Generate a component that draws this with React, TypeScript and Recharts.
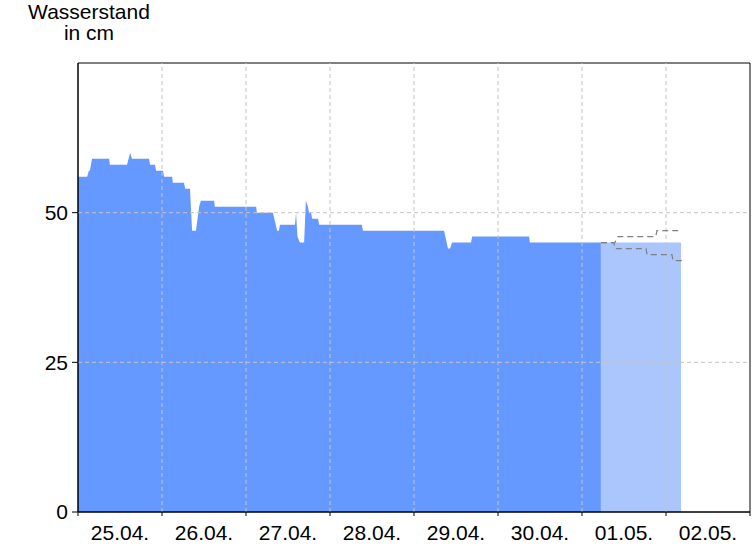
import React from "react";
import {
  ComposedChart,
  Area,
  Line,
  XAxis,
  YAxis,
  ReferenceArea,
  ReferenceLine,
} from "recharts";

// hours since 25.04. 00:00
const measuredHours = [
  0, 2.6, 3.1, 3.4, 4.0, 8.9, 9.1, 14.0, 14.9, 15.4, 20.3, 20.6, 22.0, 22.3, 24.3,
  24.6, 26.9, 27.1, 30.3, 30.6, 32.0, 32.6, 33.7, 34.6, 35.1, 38.9, 39.1, 50.9,
  51.1, 55.7, 56.9, 57.4, 57.7, 62.0, 62.3, 62.7, 63.4, 64.6, 65.1, 65.7, 66.0,
  66.6, 66.9, 68.6, 68.9, 81.1, 81.4, 104.6, 105.7, 106.3, 106.9, 112.3, 112.6,
  128.9, 129.1, 149.4,
];
const measuredLevels = [
  56, 56, 57, 57, 59, 59, 58, 58, 60, 59, 59, 58, 58, 57, 57,
  56, 56, 55, 55, 54, 54, 47, 47, 51, 52, 52, 51, 51,
  50, 50, 47, 47, 48, 48, 50, 46, 45, 45, 52, 51, 50,
  50, 49, 49, 48, 48, 47, 47, 44, 44, 45, 45, 46,
  46, 45, 45,
];

const forecastHours = [149.4, 172.3];
const forecastLevels = [45, 45];

const upperHours = [149.4, 153.4, 154.3, 165.1, 165.4, 172.6];
const upperLevels = [45, 45, 46, 46, 47, 47];

const lowerHours = [149.4, 153.1, 153.4, 162.3, 162.6, 169.7, 170.0, 172.6];
const lowerLevels = [45, 45, 44, 44, 43, 43, 42, 42];

const dayTicks = [0, 24, 48, 72, 96, 120, 144, 168, 192];
const dayLabels = ["25.04.", "26.04.", "27.04.", "28.04.", "29.04.", "30.04.", "01.05.", "02.05."];
const levelTicks = [0, 25, 50];

const toRows = (hours: number[], levels: number[]) =>
  hours.map((h, i) => ({ h, v: levels[i] }));

const measured = toRows(measuredHours, measuredLevels);
const forecast = toRows(forecastHours, forecastLevels);
const upper = toRows(upperHours, upperLevels);
const lower = toRows(lowerHours, lowerLevels);

const FONT = '"Liberation Sans", Arial, sans-serif';
const FONT_SIZE = 21;
const HALF_DAY_PX = 42;
const GRID = "#c4c4c4";

const DayTick = (props: any) => {
  const { x, y, payload } = props;
  const idx = dayTicks.indexOf(payload.value);
  if (idx < 0 || idx >= dayLabels.length) return null;
  return (
    <text x={x + HALF_DAY_PX} y={y} dy={22} textAnchor="middle" fill="#000" fontSize={FONT_SIZE} fontFamily={FONT}>
      {dayLabels[idx]}
    </text>
  );
};

const App: React.FC = () => {
  return (
    <div style={{ position: "absolute", left: 0, top: 0, width: 756, height: 546, background: "#fff" }}>
      <div
        style={{
          position: "absolute",
          left: 0,
          top: 1,
          width: 178,
          textAlign: "center",
          fontFamily: FONT,
          fontSize: FONT_SIZE,
          lineHeight: "21px",
          color: "#000",
        }}
      >
        Wasserstand
        <br />
        in cm
      </div>
      <ComposedChart width={756} height={546} margin={{ top: 63, right: 6, left: 0, bottom: 0 }}>
        <XAxis
          dataKey="h"
          type="number"
          domain={[0, 192]}
          ticks={dayTicks}
          allowDataOverflow
          height={34}
          tickSize={4}
          tickMargin={2}
          stroke="#000"
          tick={<DayTick />}
          interval={0}
        />
        <YAxis
          type="number"
          domain={[0, 75]}
          ticks={levelTicks}
          allowDataOverflow
          width={78}
          tickSize={6}
          tickMargin={4}
          stroke="#000"
          tick={{ fill: "#000", fontSize: FONT_SIZE, fontFamily: FONT }}
        />
        <Area
          data={measured}
          dataKey="v"
          type="linear"
          fill="#6699ff"
          fillOpacity={1}
          stroke="none"
          isAnimationActive={false}
        />
        <Area
          data={forecast}
          dataKey="v"
          type="linear"
          fill="#aac6fc"
          fillOpacity={1}
          stroke="none"
          isAnimationActive={false}
        />
        {dayTicks.slice(1, -1).map((t) => (
          <ReferenceLine key={`x${t}`} x={t} stroke={GRID} strokeDasharray="4 3" />
        ))}
        {levelTicks.slice(1).map((t) => (
          <ReferenceLine key={`y${t}`} y={t} stroke={GRID} strokeDasharray="4 3" />
        ))}
        <Line
          data={upper}
          dataKey="v"
          type="linear"
          stroke="#808080"
          strokeWidth={1.2}
          strokeDasharray="6 4"
          dot={false}
          isAnimationActive={false}
        />
        <Line
          data={lower}
          dataKey="v"
          type="linear"
          stroke="#808080"
          strokeWidth={1.2}
          strokeDasharray="6 4"
          dot={false}
          isAnimationActive={false}
        />
        <ReferenceArea x1={0} x2={192} y1={0} y2={75} fill="none" stroke="#000" strokeWidth={1} />
      </ComposedChart>
    </div>
  );
};

export default App;
